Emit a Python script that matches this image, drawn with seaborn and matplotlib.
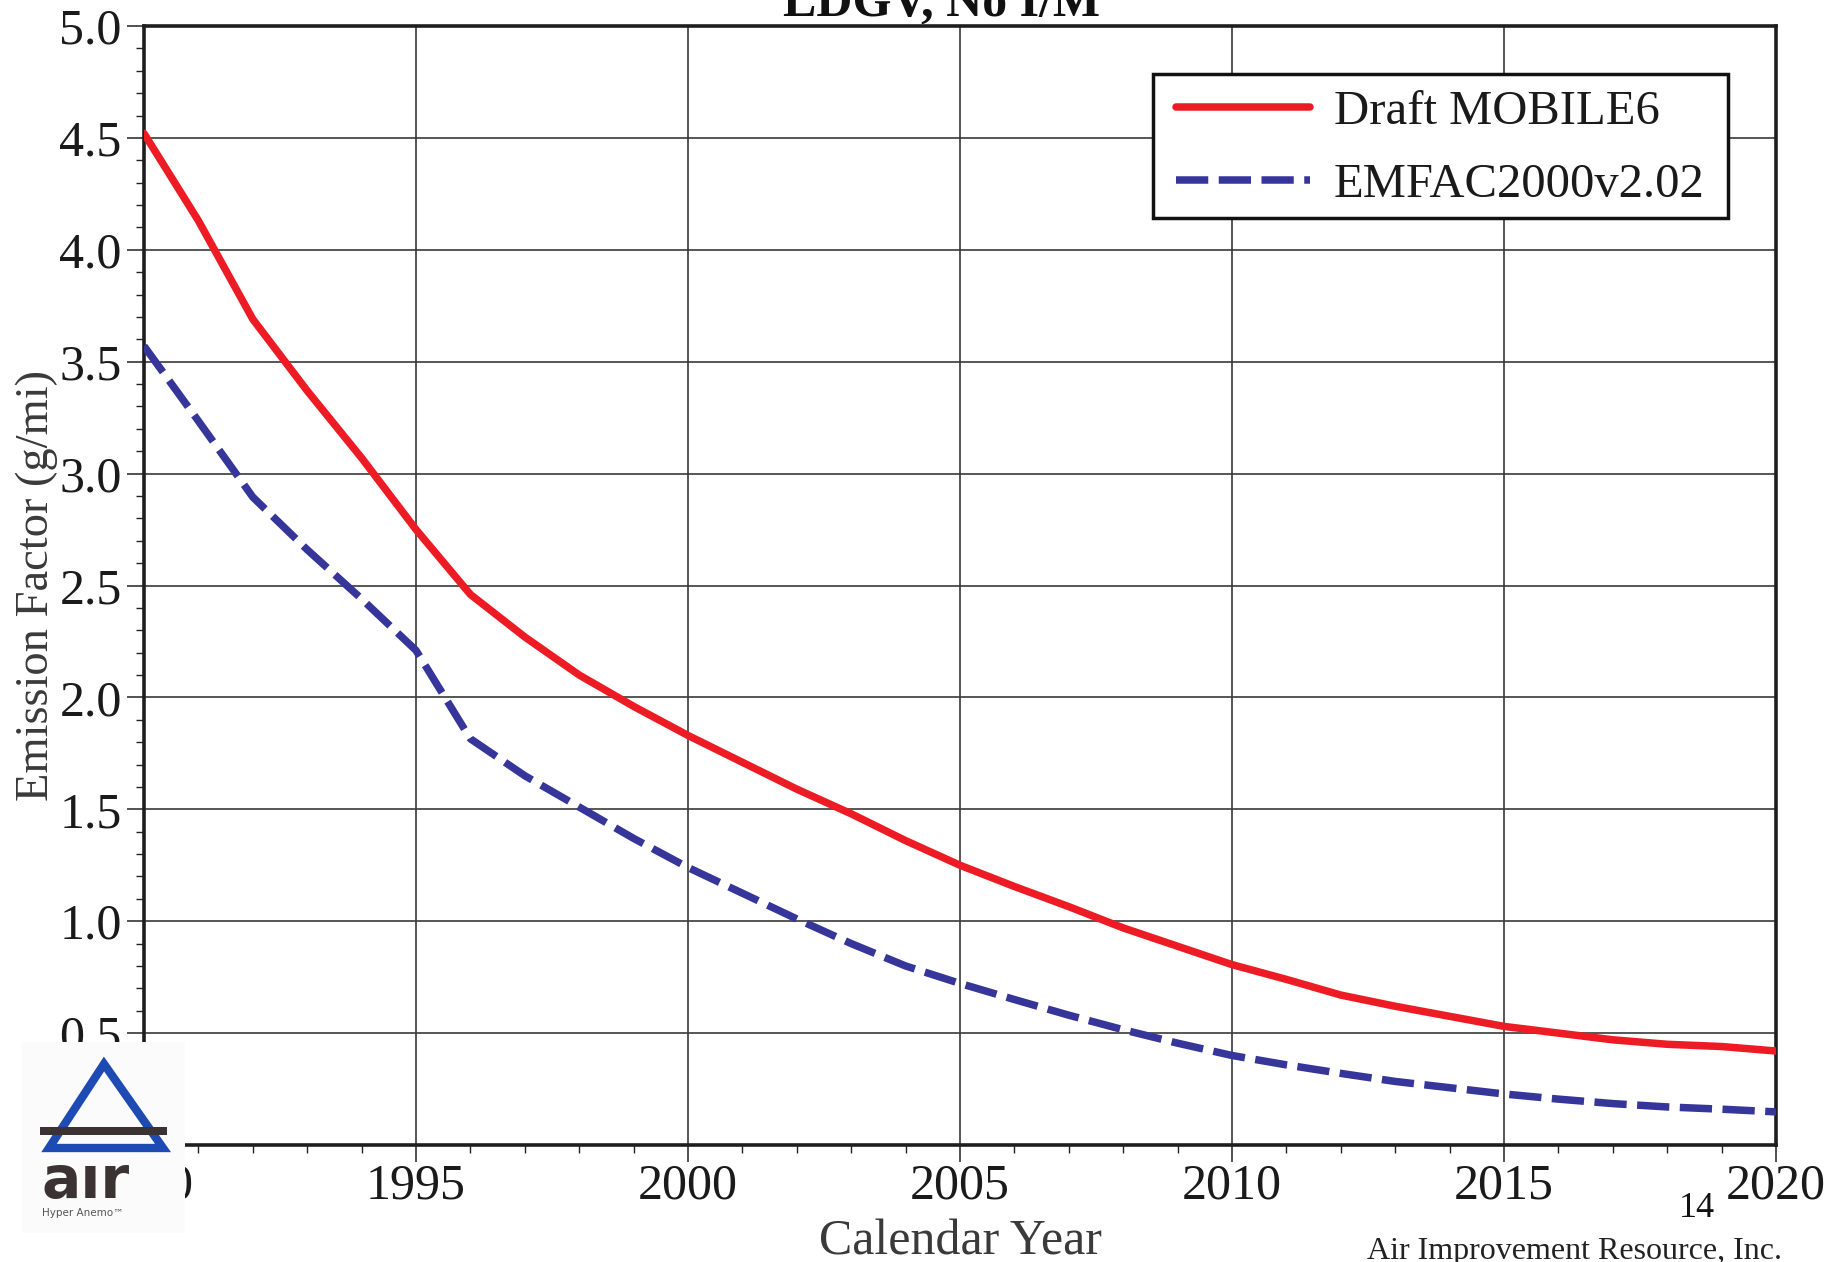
import numpy as np
import pandas as pd
import matplotlib
matplotlib.use("Agg")
import matplotlib.pyplot as plt
import seaborn as sns
from matplotlib.patches import Rectangle, Polygon
from matplotlib.ticker import MultipleLocator, FuncFormatter

# ---------------- data ----------------
years = list(range(1990, 2021))
mobile6 = [4.52, 4.13, 3.69, 3.37, 3.07, 2.75, 2.46, 2.27, 2.10, 1.96, 1.83,
           1.71, 1.59, 1.48, 1.36, 1.25, 1.155, 1.065, 0.97, 0.888, 0.806,
           0.74, 0.67, 0.62, 0.575, 0.53, 0.50, 0.47, 0.45, 0.44, 0.42]
emfac = [3.57, 3.235, 2.895, 2.66, 2.44, 2.21, 1.815, 1.65, 1.51, 1.37, 1.24,
         1.125, 1.01, 0.90, 0.80, 0.722, 0.65, 0.58, 0.515, 0.455, 0.40,
         0.358, 0.32, 0.284, 0.256, 0.228, 0.205, 0.185, 0.17, 0.16, 0.148]
series_names = ["Draft MOBILE6", "EMFAC2000v2.02"]
title = "LDGV, No I/M"
xlabel = "Calendar Year"
ylabel = "Emission Factor (g/mi)"
page_no = "14"
company = "Air Improvement Resource, Inc."
logo_word = "a\u0131r"
logo_tag = "Hyper Anemo\u2122"

RED = "#ED1C24"
BLUE = "#35359A"

# ---------------- figure ----------------
sns.set_theme(style="white")
plt.rcParams["font.family"] = ["Liberation Serif", "DejaVu Serif"]

W, H = 1848, 1262
fig = plt.figure(figsize=(W / 100, H / 100), dpi=100)
AX_L, AX_T, AX_R, AX_B = 144, 26, 1776, 1145
ax = fig.add_axes([AX_L / W, 1 - AX_B / H, (AX_R - AX_L) / W, (AX_B - AX_T) / H])

def px(x, y):
    return (x / W, 1 - y / H)

def apx(x, y):
    return ((x - AX_L) / (AX_R - AX_L), (AX_B - y) / (AX_B - AX_T))

df = pd.DataFrame({
    "year": years * 2,
    "ef": mobile6 + emfac,
    "model": [series_names[0]] * len(years) + [series_names[1]] * len(years),
})

sns.lineplot(data=df, x="year", y="ef", hue="model", style="model",
             palette={series_names[0]: RED, series_names[1]: BLUE},
             dashes={series_names[0]: "", series_names[1]: (4.3, 1.4)},
             linewidth=5.4, ax=ax, zorder=3)
for ln in ax.get_lines():
    ln.set_dash_capstyle("butt")
    ln.set_solid_joinstyle("miter")

ax.set_xlim(1990, 2020)
ax.set_ylim(0, 5.0)
ax.xaxis.set_major_locator(MultipleLocator(5))
ax.xaxis.set_minor_locator(MultipleLocator(1))
ax.yaxis.set_major_locator(MultipleLocator(0.5))
ax.yaxis.set_minor_locator(MultipleLocator(0.1))
ax.yaxis.set_major_formatter(FuncFormatter(lambda v, p: "" if abs(v) < 1e-9 else f"{v:.1f}"))

ax.grid(True, which="major", color="#3a3a3a", linewidth=1.2)
ax.set_axisbelow(True)
for s in ax.spines.values():
    s.set_visible(True)
    s.set_color("#1e1e1e")
    s.set_linewidth(2.6)

ax.tick_params(axis="both", which="major", direction="out", length=12, width=1.1,
               color="#222222", labelsize=36, labelcolor="#1a1a1a",
               bottom=True, left=True, top=False, right=False)
ax.tick_params(axis="x", which="major", pad=1)
ax.tick_params(axis="y", which="major", pad=4)
ax.tick_params(axis="both", which="minor", direction="out", length=5.5, width=1.0,
               color="#222222", bottom=True, left=True, top=False, right=False)

ax.set_xlabel(xlabel, fontsize=36, color="#3a3a3a")
ax.set_ylabel(ylabel, fontsize=33.5, color="#3a3a3a")
ax.xaxis.set_label_coords(0.5, -0.066)
ax.yaxis.set_label_coords(-0.0525, 0.5)

# legend: frame drawn as its own box, entries placed inside it
bx0, by0 = apx(1153, 218)
bx1, by1 = apx(1728, 74)
ax.add_patch(Rectangle((bx0, by0), bx1 - bx0, by1 - by0, transform=ax.transAxes,
                       facecolor="white", edgecolor="#111111", linewidth=2.5,
                       zorder=4, clip_on=False))
handles, labels = ax.get_legend_handles_labels()
leg = ax.legend(handles, labels, loc="upper left", bbox_to_anchor=apx(1176, 90),
                fontsize=35, frameon=False, handlelength=2.76, handletextpad=0.49,
                borderpad=0, labelspacing=0.59, borderaxespad=0)
leg.set_zorder(6)
for lh in leg.get_lines():
    lh.set_linewidth(5.4)
for t in leg.get_texts():
    t.set_color("#1a1a1a")

fig.text(942 / W, 1 - 16 / H, title, ha="center", va="baseline",
         fontsize=36, fontweight="bold", color="#111111")

# ---------------- logo ----------------
fig.add_artist(Rectangle(px(22, 1233), 163 / W, 191 / H, transform=fig.transFigure,
                         facecolor="#fbfbfb", edgecolor="none", zorder=10))
tri = Polygon([px(104, 1064), px(49, 1148), px(163, 1148)], closed=True, fill=False,
              edgecolor="#1E4AB4", linewidth=6.0, joinstyle="miter",
              transform=fig.transFigure, zorder=11)
fig.add_artist(tri)
fig.add_artist(Rectangle(px(40, 1135), 127 / W, 8 / H, transform=fig.transFigure,
                         facecolor="#3b3333", edgecolor="none", zorder=12))
fig.text(*px(41, 1198), logo_word, fontsize=42, fontweight="heavy", color="#3b3333",
         family=["DejaVu Sans"], ha="left", va="baseline", zorder=12)
fig.text(*px(42, 1216), logo_tag, fontsize=7.5, color="#555555",
         family=["DejaVu Sans"], ha="left", va="baseline", zorder=12)

fig.text(*px(1679, 1217), page_no, fontsize=26, color="#111111",
         ha="left", va="baseline")
fig.text(*px(1367, 1259), company, fontsize=23, color="#222222",
         ha="left", va="baseline")

fig.savefig("out.png", dpi=100)
